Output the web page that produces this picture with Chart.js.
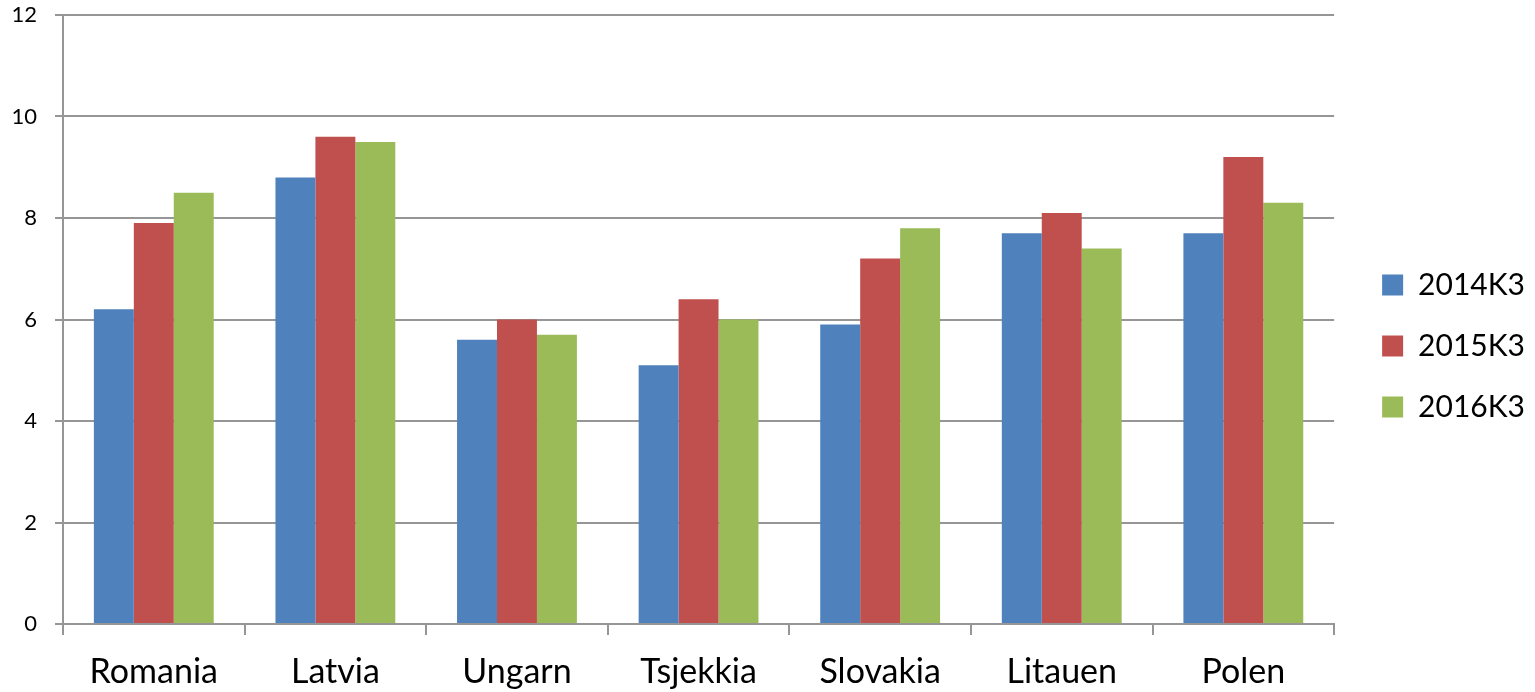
<!DOCTYPE html>
<html lang="no">
<head>
  <meta charset="UTF-8" />
  <title>Bar chart 2014K3-2016K3</title>
  <style>
    html, body {
      margin: 0;
      padding: 0;
      background: #fff;
    }
    #wrap {
      width: 1535px;
      height: 692px;
    }
  </style>
</head>
<body>
  <div id="wrap">
    <canvas id="chart"></canvas>
  </div>

  <script src="https://cdn.jsdelivr.net/npm/chart.js"></script>
  <script>
    const countries = ['Romania', 'Latvia', 'Ungarn', 'Tsjekkia', 'Slovakia', 'Litauen', 'Polen'];
    const v2014 = [6.2, 8.8, 5.6, 5.1, 5.9, 7.7, 7.7];
    const v2015 = [7.9, 9.6, 6.0, 6.4, 7.2, 8.1, 9.2];
    const v2016 = [8.5, 9.5, 5.7, 6.0, 7.8, 7.4, 8.3];
    const yTicks = [0, 2, 4, 6, 8, 10, 12];

    const fontFamily = "Lato, 'Open Sans', sans-serif";
    const gridColor = '#969696';

    new Chart(document.getElementById('chart'), {
      type: 'bar',
      data: {
        labels: countries,
        datasets: [
          { label: '2014K3', data: v2014, backgroundColor: '#4f81bd' },
          { label: '2015K3', data: v2015, backgroundColor: '#c0504d' },
          { label: '2016K3', data: v2016, backgroundColor: '#9bbb59' }
        ]
      },
      options: {
        responsive: true,
        maintainAspectRatio: false,
        animation: false,
        layout: { padding: 0 },
        datasets: {
          bar: { barPercentage: 1, categoryPercentage: 0.66 }
        },
        scales: {
          x: {
            offset: true,
            grid: {
              offset: true,
              drawOnChartArea: false,
              drawTicks: true,
              tickLength: 11,
              color: gridColor,
              lineWidth: 2
            },
            border: { color: gridColor, width: 2 },
            ticks: {
              color: '#000',
              font: { family: fontFamily, size: 34 },
              padding: 17,
              maxRotation: 0
            },
            afterFit: scale => {
              scale.height = 68;
              scale.paddingLeft = 0;
              scale.paddingRight = 0;
            }
          },
          y: {
            min: 0,
            max: 12,
            afterBuildTicks: axis => { axis.ticks = yTicks.map(v => ({ value: v })); },
            grid: {
              color: gridColor,
              lineWidth: 2,
              tickLength: 8
            },
            border: { color: gridColor, width: 2 },
            ticks: {
              color: '#000',
              font: { family: fontFamily, size: 22 },
              padding: 18
            },
            afterFit: scale => {
              scale.width = 63;
              scale.paddingTop = 15;
              scale.paddingBottom = 0;
            }
          },
          // empty spacer between the plot and the legend
          gap: {
            position: 'right',
            display: true,
            grid: { display: false },
            border: { display: false },
            ticks: { display: false },
            afterFit: scale => { scale.width = 17; }
          }
        },
        plugins: {
          legend: {
            position: 'right',
            labels: {
              color: '#000',
              font: { family: fontFamily, size: 30 },
              boxWidth: 21,
              boxHeight: 21,
              padding: 31
            }
          },
          tooltip: { enabled: false }
        }
      }
    });
  </script>
</body>
</html>
